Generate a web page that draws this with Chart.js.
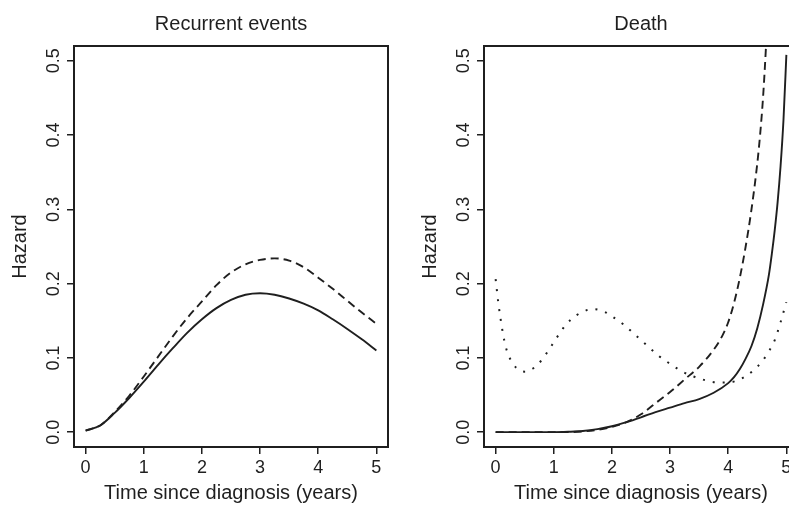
<!DOCTYPE html>
<html><head><meta charset="utf-8">
<script src="https://cdn.jsdelivr.net/npm/chart.js@4/dist/chart.umd.min.js"></script>
<style>
html,body{margin:0;padding:0;background:#fff;overflow:hidden;}
#wrap{position:relative;width:789px;height:515px;overflow:hidden;background:#fff;}
#c1{position:absolute;left:0;top:0;}
#c2{position:absolute;left:410px;top:0;}
</style></head><body>
<div id="wrap"><canvas id="c1" width="410" height="515"></canvas><canvas id="c2" width="410" height="515"></canvas></div>
<script>
// ---- data ----
const xTicks = [0, 1, 2, 3, 4, 5];
const yTicks = [0, 0.1, 0.2, 0.3, 0.4, 0.5];
const panelTitles = ["Recurrent events", "Death"];
const xAxisTitle = "Time since diagnosis (years)";
const yAxisTitle = "Hazard";

// Recurrent events
const recTime   = [0, 0.25, 0.5, 0.75, 1, 1.25, 1.5, 1.75, 2, 2.25, 2.5, 2.75, 3, 3.25, 3.5, 3.75, 4, 4.25, 4.5, 4.75, 5];
const recSolid  = [0.002, 0.009, 0.026, 0.046, 0.068, 0.091, 0.113, 0.134, 0.152, 0.167, 0.178, 0.185, 0.187, 0.185, 0.180, 0.173, 0.164, 0.152, 0.139, 0.125, 0.110];
const recDashed = [0.002, 0.009, 0.027, 0.049, 0.075, 0.102, 0.129, 0.154, 0.176, 0.198, 0.215, 0.226, 0.232, 0.234, 0.231, 0.222, 0.208, 0.193, 0.177, 0.161, 0.146];

// Death
const deathSolidTime = [0, 0.5, 1, 1.25, 1.5, 1.75, 2, 2.25, 2.5, 2.75, 3, 3.25, 3.5, 3.75, 4, 4.1, 4.2, 4.3, 4.4, 4.5, 4.6, 4.7, 4.75, 4.8, 4.85, 4.9, 4.95, 5];
const deathSolid     = [0, 0, 0, 0.0005, 0.0015, 0.004, 0.008, 0.0135, 0.02, 0.027, 0.033, 0.039, 0.0445, 0.053, 0.066, 0.074, 0.085, 0.099, 0.116, 0.14, 0.172, 0.212, 0.24, 0.272, 0.31, 0.358, 0.42, 0.508];
const deathDashedTime = [0, 0.5, 1, 1.25, 1.5, 1.75, 2, 2.25, 2.5, 2.75, 3, 3.25, 3.5, 3.75, 3.9, 4, 4.1, 4.2, 4.3, 4.4, 4.5, 4.55, 4.6, 4.65, 4.7];
const deathDashed     = [0, 0, 0, 0, 0.001, 0.003, 0.007, 0.0135, 0.024, 0.039, 0.054, 0.071, 0.088, 0.111, 0.130, 0.148, 0.174, 0.208, 0.25, 0.30, 0.362, 0.402, 0.452, 0.52, 0.60];
const deathDottedTime = [0, 0.05, 0.1, 0.15, 0.2, 0.3, 0.4, 0.5, 0.6, 0.7, 0.8, 0.9, 1.0, 1.1, 1.2, 1.3, 1.4, 1.5, 1.6, 1.7, 1.8, 1.9, 2.0, 2.2, 2.4, 2.6, 2.8, 3.0, 3.2, 3.4, 3.6, 3.8, 4.0, 4.2, 4.4, 4.6, 4.7, 4.8, 4.9, 5.0];
const deathDotted     = [0.206, 0.172, 0.145, 0.123, 0.108, 0.092, 0.084, 0.0815, 0.084, 0.089, 0.098, 0.109, 0.121, 0.133, 0.144, 0.152, 0.158, 0.162, 0.165, 0.1655, 0.164, 0.161, 0.156, 0.145, 0.131, 0.117, 0.103, 0.092, 0.082, 0.075, 0.070, 0.067, 0.067, 0.071, 0.081, 0.097, 0.109, 0.124, 0.148, 0.175];

// ---- styling ----
const INK = '#1f1f1f';
const FAMILY = '"Liberation Sans", Arial, Helvetica, sans-serif';

function pts(xs, ys) { return xs.map((x, i) => ({x: x, y: ys[i]})); }

function series(xs, ys, kind) {
  const ds = {
    data: pts(xs, ys),
    borderColor: INK,
    borderWidth: 1.9,
    pointRadius: 0,
    fill: false,
    cubicInterpolationMode: 'monotone'
  };
  if (kind === 'dashed') ds.borderDash = [8, 5];
  if (kind === 'dotted') { ds.borderDash = [2, 8]; ds.borderWidth = 2; }
  return ds;
}

const boxPlugin = {
  id: 'box',
  afterDraw(chart) {
    const a = chart.chartArea, ctx = chart.ctx;
    ctx.save();
    ctx.strokeStyle = INK;
    ctx.lineWidth = 2;
    ctx.strokeRect(a.left, a.top, a.right - a.left, a.bottom - a.top);
    ctx.restore();
  }
};

function makeChart(id, title, datasets) {
  return new Chart(document.getElementById(id), {
    type: 'line',
    data: {datasets: datasets},
    plugins: [boxPlugin],
    options: {
      responsive: false,
      animation: false,
      events: [],
      layout: {padding: {left: 0, right: 22, top: 0, bottom: 0}},
      plugins: {
        legend: {display: false},
        tooltip: {enabled: false},
        title: {
          display: true, text: title, color: INK, fullSize: false,
          font: {family: FAMILY, size: 20, weight: 'normal', lineHeight: 1.2},
          padding: {top: 12, bottom: 10}
        }
      },
      scales: {
        x: {
          type: 'linear', min: -0.2, max: 5.2,
          afterBuildTicks: s => { s.ticks = xTicks.map(v => ({value: v})); },
          afterFit: s => { s.height = 68; },
          border: {display: false},
          grid: {display: true, drawOnChartArea: false, drawTicks: true, tickLength: 7, color: INK, lineWidth: 1.5},
          ticks: {color: INK, padding: 3, maxRotation: 0, autoSkip: false,
                  font: {family: FAMILY, size: 18}, callback: v => String(v)},
          title: {display: true, text: xAxisTitle, color: INK,
                  font: {family: FAMILY, size: 20, lineHeight: 1.2}, padding: {top: 0, bottom: 10}}
        },
        y: {
          type: 'linear', min: -0.02, max: 0.52,
          afterBuildTicks: s => { s.ticks = yTicks.map(v => ({value: v})); },
          afterFit: s => { s.width = 74; },
          border: {display: false},
          grid: {display: true, drawOnChartArea: false, drawTicks: true, tickLength: 7, color: INK, lineWidth: 1.5},
          ticks: {color: INK, padding: 0, minRotation: 90, maxRotation: 90, crossAlign: 'center', autoSkip: false,
                  font: {family: FAMILY, size: 18}, callback: v => v.toFixed(1)},
          title: {display: true, text: yAxisTitle, color: INK,
                  font: {family: FAMILY, size: 20, lineHeight: 1.2}, padding: {top: 8, bottom: 0}}
        }
      }
    }
  });
}

makeChart('c1', panelTitles[0], [
  series(recTime, recSolid, 'solid'),
  series(recTime, recDashed, 'dashed')
]);
makeChart('c2', panelTitles[1], [
  series(deathSolidTime, deathSolid, 'solid'),
  series(deathDashedTime, deathDashed, 'dashed'),
  series(deathDottedTime, deathDotted, 'dotted')
]);
</script>
</body></html>
